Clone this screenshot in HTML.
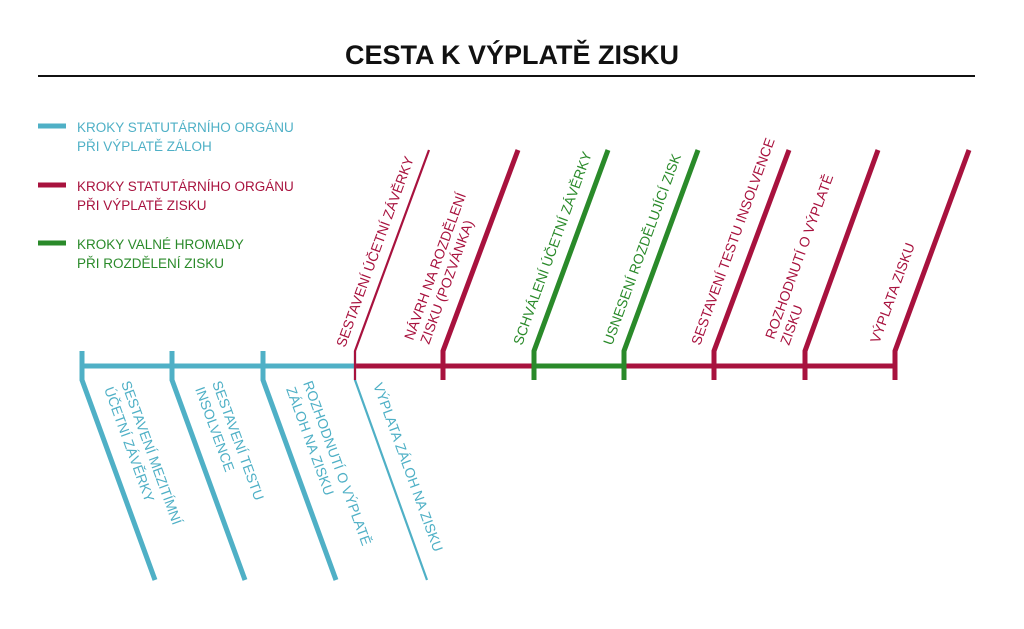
<!DOCTYPE html>
<html><head><meta charset="utf-8"><style>
html,body{margin:0;padding:0;background:#fff;}
svg{display:block;}
text{font-family:"Liberation Sans",sans-serif;}
</style></head><body>
<svg width="1024" height="629" viewBox="0 0 1024 629" xmlns="http://www.w3.org/2000/svg">
<text x="512" y="64" text-anchor="middle" font-size="27" font-weight="bold" fill="#111">CESTA K VÝPLATĚ ZISKU</text>
<line x1="38" y1="76" x2="975" y2="76" stroke="#111" stroke-width="2"/>

<g font-size="13.5">
<line x1="38" y1="126" x2="66" y2="126" stroke="#4fb0c6" stroke-width="5"/>
<text x="77" y="132" fill="#4fb0c6">KROKY STATUTÁRNÍHO ORGÁNU</text>
<text x="77" y="151" fill="#4fb0c6">PŘI VÝPLATĚ ZÁLOH</text>
<line x1="38" y1="185" x2="66" y2="185" stroke="#a8123e" stroke-width="5"/>
<text x="77" y="191" fill="#a8123e">KROKY STATUTÁRNÍHO ORGÁNU</text>
<text x="77" y="210" fill="#a8123e">PŘI VÝPLATĚ ZISKU</text>
<line x1="38" y1="243" x2="66" y2="243" stroke="#2a8a2a" stroke-width="5"/>
<text x="77" y="249" fill="#2a8a2a">KROKY VALNÉ HROMADY</text>
<text x="77" y="268" fill="#2a8a2a">PŘI ROZDĚLENÍ ZISKU</text>
</g>

<line x1="82" y1="366" x2="355" y2="366" stroke="#4fb0c6" stroke-width="5"/>
<line x1="355" y1="366" x2="534" y2="366" stroke="#a8123e" stroke-width="5"/>
<line x1="534" y1="366" x2="624" y2="366" stroke="#2a8a2a" stroke-width="5"/>
<line x1="624" y1="366" x2="895" y2="366" stroke="#a8123e" stroke-width="5"/>

<g stroke="#4fb0c6" fill="none">
<polyline points="82,351 82,380 155,580" stroke-width="5"/>
<polyline points="172,351 172,380 245,580" stroke-width="5"/>
<polyline points="263,351 263,380 336,580" stroke-width="5"/>
<polyline points="355,351 355,380 427,580" stroke-width="2.2"/>
</g>
<g fill="none">
<polyline points="355,380 355,351 429,150" stroke="#a8123e" stroke-width="2.2"/>
<polyline points="443,380 443,351 518,150" stroke="#a8123e" stroke-width="5"/>
<polyline points="534,380 534,351 608,150" stroke="#2a8a2a" stroke-width="5"/>
<polyline points="624,380 624,351 698,150" stroke="#2a8a2a" stroke-width="5"/>
<polyline points="714,380 714,351 789,150" stroke="#a8123e" stroke-width="5"/>
<polyline points="805,380 805,351 878,150" stroke="#a8123e" stroke-width="5"/>
<polyline points="895,380 895,351 969,150" stroke="#a8123e" stroke-width="5"/>
</g>

<g font-size="14">
<g fill="#a8123e">
<text transform="translate(345,348) rotate(-70)">SESTAVENÍ ÚČETNÍ ZÁVĚRKY</text>
<text transform="translate(413,341) rotate(-70)">NÁVRH NA ROZDĚLENÍ</text>
<text transform="translate(429,345) rotate(-70)">ZISKU (POZVÁNKA)</text>
<text transform="translate(700,346) rotate(-70)">SESTAVENÍ TESTU INSOLVENCE</text>
<text transform="translate(774,340) rotate(-70)">ROZHODNUTÍ O VÝPLATĚ</text>
<text transform="translate(789,346) rotate(-70)">ZISKU</text>
<text transform="translate(879,344) rotate(-70)">VÝPLATA ZISKU</text>
</g>
<g fill="#2a8a2a">
<text transform="translate(522,346) rotate(-70)">SCHVÁLENÍ ÚČETNÍ ZÁVĚRKY</text>
<text transform="translate(612,346) rotate(-70)">USNESENÍ ROZDĚLUJÍCÍ ZISK</text>
</g>
<g fill="#4fb0c6">
<text transform="translate(121,383) rotate(70)">SESTAVENÍ MEZITÍMNÍ</text>
<text transform="translate(104,389) rotate(70)">ÚČETNÍ ZÁVĚRKY</text>
<text transform="translate(212,383) rotate(70)">SESTAVENÍ TESTU</text>
<text transform="translate(195,389) rotate(70)">INSOLVENCE</text>
<text transform="translate(303,383) rotate(70)">ROZHODNUTÍ O VÝPLATĚ</text>
<text transform="translate(286,389) rotate(70)">ZÁLOH NA ZISKU</text>
<text transform="translate(373,385) rotate(70)">VÝPLATA ZÁLOH NA ZISKU</text>
</g>
</g>
</svg>
</body></html>
